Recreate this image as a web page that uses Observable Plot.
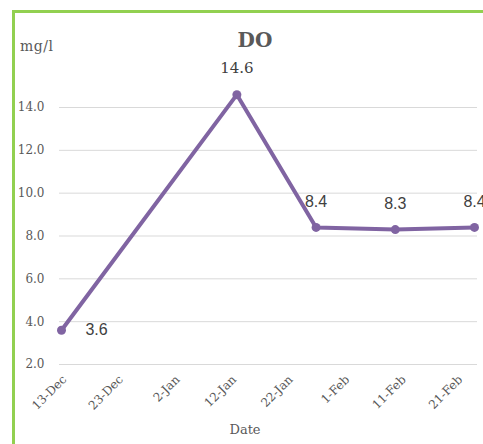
<!DOCTYPE html>
<html>
<head>
<meta charset="utf-8">
<script src="https://cdn.jsdelivr.net/npm/d3@7"></script>
<script src="https://cdn.jsdelivr.net/npm/@observablehq/plot@0.6"></script>
<style>
  html, body { margin: 0; padding: 0; background: #fff; }
  #wrap { position: relative; width: 483px; height: 444px; overflow: hidden; background: #fff; }
  #frame { position: absolute; left: 12px; top: 10px; width: 520px; height: 480px;
           border-left: 3px solid #92D050; border-top: 3px solid #92D050; box-sizing: border-box; }
  #chart { position: absolute; left: 0; top: 0; }
  .lbl { position: absolute; color: #595959; font-family: "DejaVu Serif", serif; white-space: nowrap; }
  #title { left: 255px; top: 28px; transform: translateX(-50%); font-size: 20px; font-weight: bold; }
  #ylab { left: 20px; top: 38px; font-size: 14px; letter-spacing: 0.5px; }
  #xlab { left: 245px; top: 422px; transform: translateX(-50%); font-size: 13px; }
</style>
</head>
<body>
<div id="wrap">
  <div id="frame"></div>
  <div id="chart"></div>
  <div class="lbl" id="title">DO</div>
  <div class="lbl" id="ylab">mg/l</div>
  <div class="lbl" id="xlab">Date</div>
</div>
<script>
// ---- data ----
const dates = ["2020-12-13", "2021-01-13", "2021-01-27", "2021-02-10", "2021-02-24"];
const doValues = [3.6, 14.6, 8.4, 8.3, 8.4];
const yTicks = [2, 4, 6, 8, 10, 12, 14];
const xTickDates = ["2020-12-13", "2020-12-23", "2021-01-02", "2021-01-12", "2021-01-22", "2021-02-01", "2021-02-11", "2021-02-21"];
const monthNames = ["Jan","Feb","Mar","Apr","May","Jun","Jul","Aug","Sep","Oct","Nov","Dec"];

const data = dates.map((d, i) => ({date: new Date(d + "T00:00:00Z"), v: doValues[i]}));
const xTicks = xTickDates.map(d => new Date(d + "T00:00:00Z"));
const fmtDate = d => `${d.getUTCDate()}-${monthNames[d.getUTCMonth()]}`;

const purple = "#8064A2";
const grey = "#595959";

const chart = Plot.plot({
  width: 483,
  height: 444,
  marginLeft: 59,
  marginRight: 6,
  marginTop: 107,
  marginBottom: 80,
  style: {background: "transparent", fontFamily: "DejaVu Serif, serif"},
  x: {type: "utc", domain: [data[0].date, data[data.length - 1].date], insetLeft: 2, insetRight: 3},
  y: {domain: [2, 14]},
  marks: [
    Plot.ruleY(yTicks, {stroke: "#d9d9d9", strokeWidth: 1}),
    Plot.axisY({ticks: yTicks, tickFormat: d => d.toFixed(1), tickSize: 0, tickPadding: 15,
                fontSize: 12, fill: grey, label: null}),
    Plot.axisX({ticks: xTicks, tickFormat: fmtDate, tickRotate: -45, tickSize: 0, tickPadding: 13,
                dx: 3, fontSize: 12, fill: grey, label: null}),
    Plot.line(data, {x: "date", y: "v", stroke: purple, strokeWidth: 4}),
    Plot.dot(data, {x: "date", y: "v", r: 4.5, fill: purple, stroke: "none"}),
    Plot.text(data, {filter: (d, i) => i === 0, x: "date", y: "v", text: d => d.v.toFixed(1),
                     dx: 35, fontSize: 16, fill: "#404040", fontFamily: "Liberation Sans, sans-serif"}),
    Plot.text(data, {filter: (d, i) => i === 1, x: "date", y: "v", text: d => d.v.toFixed(1),
                     dy: -26, fontSize: 15, fill: "#404040", fontFamily: "DejaVu Serif, serif"}),
    Plot.text(data, {filter: (d, i) => i > 1, x: "date", y: "v", text: d => d.v.toFixed(1),
                     dy: -26, fontSize: 16, fill: "#404040", fontFamily: "Liberation Sans, sans-serif"})
  ]
});
document.getElementById("chart").appendChild(chart);
</script>
</body>
</html>
